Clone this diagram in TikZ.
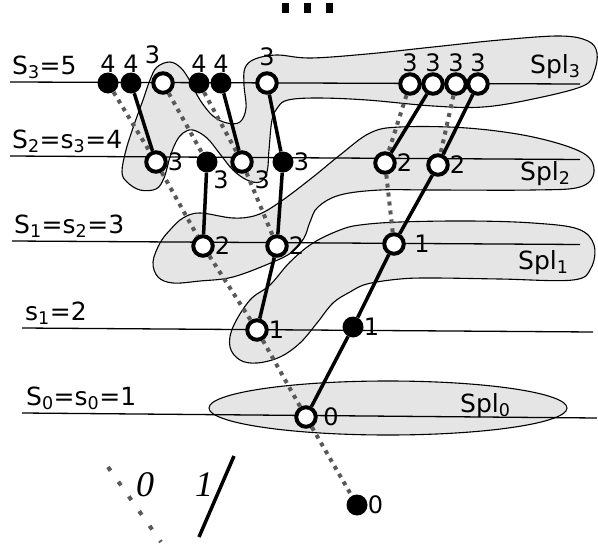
\documentclass[tikz,border=0pt]{standalone}
\usepackage{fontspec}
\setmainfont{DejaVu Sans}
\newfontfamily\legfont{Liberation Serif}
\usepackage{tikz}
\usetikzlibrary{positioning}

\begin{document}
\begin{tikzpicture}[x=1pt, y=-1pt,
    open/.style={draw, circle, fill=white, line width=4pt, inner sep=0pt, minimum size=19.5pt, label distance=2.5pt},
    full/.style={circle, fill, inner sep=0pt, minimum size=21pt, label distance=3.5pt},
    zero/.style={line width=4pt, black!65, dash pattern=on 4pt off 5pt},
    one/.style={line width=3.5pt},
    lvline/.style={line width=1.3pt},
    spl/.style={draw, fill=black!10, line width=1.1pt},
    txt/.style={font=\fontsize{25}{25}\selectfont, inner sep=0pt, anchor=base west},
    leg/.style={font=\legfont\itshape\fontsize{36}{36}\selectfont, inner sep=0pt},
    every label/.style={font=\fontsize{24}{24}\selectfont, inner sep=0pt}]
  \useasboundingbox (0,0) rectangle (598,549);

  \draw[spl] plot[smooth cycle, tension=0.6] coordinates {
    (122,172) (126,150) (134,125) (143,100) (150,80) (157,67) (170,62) (181,68)
    (190,81) (200,100) (213,116) (227,123) (240,122) (246,108) (244,85) (245,68)
    (255,59) (277,55) (310,58) (367,54) (433,47) (500,40) (560,36) (588,41)
    (597,53) (594,72) (583,86) (533,99) (483,107) (433,106) (367,100) (317,98)
    (288,100) (278,107) (272,120) (269,150) (267,172) (260,182) (247,180) (233,170)
    (220,154) (207,138) (193,130) (183,133) (176,142) (170,157) (164,178) (156,189)
    (140,190) (127,182)};
  \draw[spl] plot[smooth cycle, tension=0.6] coordinates {
    (400,127) (467,128) (533,137) (583,153) (594,172) (580,187) (533,190) (433,190)
    (380,190) (340,195) (318,207) (310,222) (304,238) (292,252) (273,262) (233,277)
    (200,281) (173,283) (158,277) (153,262) (160,243) (170,230) (183,218) (200,213)
    (233,218) (257,215) (280,202) (313,177) (340,155) (370,133)};
  \draw[spl] plot[smooth cycle, tension=0.6] coordinates {
    (270,285) (290,262) (313,243) (340,230) (360,225) (400,222) (470,221) (533,223)
    (578,229) (594,245) (591,268) (573,280) (500,279) (433,278) (400,279) (367,284)
    (350,292) (333,303) (317,323) (300,343) (280,357) (257,363) (240,360) (230,347)
    (233,327) (250,300)};
  \draw[spl] (388,408) ellipse [x radius=179pt, y radius=27pt];

  \draw[lvline] (10,82) -- (580,84);
  \draw[lvline] (10,156) -- (580,159.5);
  \draw[lvline] (12,241) -- (580,244.5);
  \draw[lvline] (22,328) -- (593,332);
  \draw[lvline] (22,413) -- (597,418);

  \fill (282,3) rectangle (289,13);
  \fill (304,3) rectangle (311,13);
  \fill (326,3) rectangle (333,13);

  \node[txt] (lv3) at (12,74) {S\textsubscript{3}=5};
  \node[txt] (lv2) at (12,148) {S\textsubscript{2}=s\textsubscript{3}=4};
  \node[txt] (lv1) at (14,233) {S\textsubscript{1}=s\textsubscript{2}=3};
  \node[txt] (lvs) at (25,320) {s\textsubscript{1}=2};
  \node[txt] (lv0) at (26,405) {S\textsubscript{0}=s\textsubscript{0}=1};
  \node[txt] (sp3) at (530,73) {Spl\textsubscript{3}};
  \node[txt] (sp2) at (520,180) {Spl\textsubscript{2}};
  \node[txt] (sp1) at (518,269) {Spl\textsubscript{1}};
  \node[txt] (sp0) at (460,412) {Spl\textsubscript{0}};

  \node[full, label=above:4] (a1) at (108,83) {};
  \node[full, label=above:4] (a2) at (131,83) {};
  \node[open, label={[label distance=7.5pt]98:3}] (a3) at (163,83) {};
  \node[full, label=above:4] (a4) at (199,83) {};
  \node[full, label=above:4] (a5) at (221,83) {};
  \node[open, label={[label distance=5.5pt]above:3}] (a6) at (267,83) {};
  \node[open, label=above:3] (a7) at (410,84) {};
  \node[open, label=above:3] (a8) at (433,84) {};
  \node[open, label=above:3] (a9) at (456,84) {};
  \node[open, label=above:3] (a10) at (478,84) {};

  \node[open, label=right:3] (b1) at (156,162) {};
  \node[full, label={[label distance=0pt]-55:3}] (b2) at (207,162) {};
  \node[open, label={[label distance=3pt]-33:3}] (b3) at (242,162) {};
  \node[full, label=right:3] (b4) at (283,162) {};
  \node[open, label=right:2] (b5) at (385,163) {};
  \node[open, label=right:2] (b6) at (438,165) {};

  \node[open, label=right:2] (c1) at (203,246) {};
  \node[open, label=right:2] (c2) at (277,246) {};
  \node[open, label={[label distance=8.5pt]right:1}] (c3) at (394,244) {};

  \node[open, label=right:1] (d1) at (257,330) {};
  \node[full, label=right:1] (d2) at (353,327) {};

  \node[open, label={[label distance=5.5pt]right:0}] (e1) at (306,417) {};
  \node[full, label=right:0] (f1) at (357,505) {};

  \path[zero]
    (a1) edge (b1)  (b1) edge (c1)  (c1) edge (d1)  (d1) edge (e1)  (e1) edge (f1)
    (a3) edge (b2)  (a4) edge (b3)  (b3) edge (c2)
    (a7) edge (b5)  (b5) edge (c3)  (a9) edge (b6);
  \path[one]
    (a2) edge (b1)  (a5) edge (b3)  (a6) edge (b4)  (a8) edge (b5)  (a10) edge (b6)
    (b2) edge (c1)  (b4) edge (c2)  (c2) edge (d1)
    (b6) edge (c3)  (c3) edge (d2)  (d2) edge (e1);

  \coordinate (z0) at (108,467);
  \coordinate (z1) at (161,542);
  \coordinate (u0) at (234,456);
  \coordinate (u1) at (199,537);
  \draw[zero, dash pattern=on 4.5pt off 13.5pt] (z0) -- (z1);
  \draw[one] (u0) -- (u1);
  \node[leg] (lg0) at (145,485) {0};
  \node[leg] (lg1) at (204,485) {1};
\end{tikzpicture}
\end{document}
